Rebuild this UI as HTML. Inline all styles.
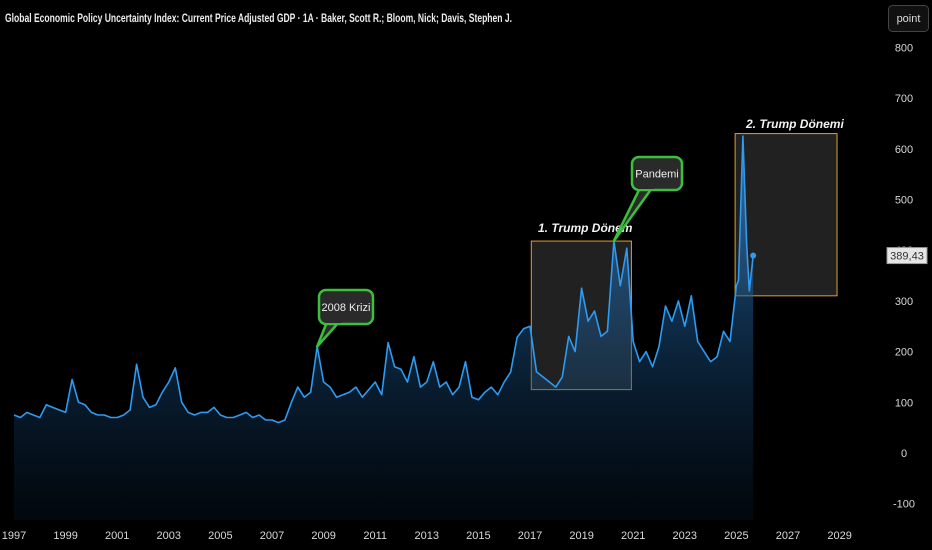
<!DOCTYPE html>
<html><head><meta charset="utf-8"><style>
html,body{margin:0;padding:0;background:#000;width:932px;height:550px;overflow:hidden}
svg{display:block;font-family:"Liberation Sans",sans-serif}
</style></head><body>
<svg id="chart" width="932" height="550" viewBox="0 0 932 550">
<defs>
<linearGradient id="fillg" x1="0" y1="130" x2="0" y2="520" gradientUnits="userSpaceOnUse">
<stop offset="0" stop-color="#2f86d8" stop-opacity="0.8"/>
<stop offset="0.6" stop-color="#164a7a" stop-opacity="0.45"/>
<stop offset="1" stop-color="#06182a" stop-opacity="0.3"/>
</linearGradient>
</defs>
<text x="5" y="22" fill="#ececec" font-size="12" font-weight="bold" textLength="507" lengthAdjust="spacingAndGlyphs">Global Economic Policy Uncertainty Index: Current Price Adjusted GDP · 1A · Baker, Scott R.; Bloom, Nick; Davis, Stephen J.</text>
<g>
<rect x="888.5" y="5.5" width="40" height="26" rx="4" fill="#111" stroke="#444"/>
<text x="908.5" y="22" fill="#ddd" font-size="11" text-anchor="middle">point</text>
</g>
<g id="yaxis"></g>
<g id="xaxis"></g>
<g id="boxes"></g>
<g id="series"></g>
<g id="notes"></g>
</svg>
<script>
const t=[1997,1997.25,1997.5,1997.75,1998,1998.25,1998.5,1998.75,1999,1999.25,1999.5,1999.75,2000,2000.25,2000.5,2000.75,2001,2001.25,2001.5,2001.75,2002,2002.25,2002.5,2002.75,2003,2003.25,2003.5,2003.75,2004,2004.25,2004.5,2004.75,2005,2005.25,2005.5,2005.75,2006,2006.25,2006.5,2006.75,2007,2007.25,2007.5,2007.75,2008,2008.25,2008.5,2008.75,2009,2009.25,2009.5,2009.75,2010,2010.25,2010.5,2010.75,2011,2011.25,2011.5,2011.75,2012,2012.25,2012.5,2012.75,2013,2013.25,2013.5,2013.75,2014,2014.25,2014.5,2014.75,2015,2015.25,2015.5,2015.75,2016,2016.25,2016.5,2016.75,2017,2017.25,2017.5,2017.75,2018,2018.25,2018.5,2018.75,2019,2019.25,2019.5,2019.75,2020,2020.25,2020.5,2020.75,2021,2021.25,2021.5,2021.75,2022,2022.25,2022.5,2022.75,2023,2023.25,2023.5,2023.75,2024,2024.25,2024.5,2024.75,2025,2025.08,2025.25,2025.4,2025.5,2025.65];
const values=[75,70,80,75,70,95,90,85,80,145,100,95,80,75,75,70,70,75,85,175,110,90,95,120,140,168,100,80,75,80,80,90,75,70,70,75,80,70,75,65,65,60,65,100,130,110,120,210,140,130,110,115,120,130,110,125,140,115,218,170,165,140,190,130,140,180,130,140,115,130,180,110,105,120,130,115,140,160,228,245,250,160,150,140,130,150,230,200,325,260,280,230,240,418,330,404,220,180,200,170,210,290,260,300,250,310,220,200,180,190,240,220,330,340,625,410,320,389.43];
const yTicks=[800,700,600,500,400,300,200,100,0,-100];
const xTicks=[1997,1999,2001,2003,2005,2007,2009,2011,2013,2015,2017,2019,2021,2023,2025,2027,2029];
const NS="http://www.w3.org/2000/svg";
const X=v=>14+(v-1997)*25.8;
const Y=v=>453-v*0.507;
const BOTTOM=520;
function mk(tag,attrs,parent){const e=document.createElementNS(NS,tag);for(const k in attrs)e.setAttribute(k,attrs[k]);parent.appendChild(e);return e;}
const ya=document.getElementById('yaxis'),xa=document.getElementById('xaxis');
yTicks.forEach(v=>{const e=mk('text',{x:904,y:Y(v)+4,fill:'#d8d8d8','font-size':11,'text-anchor':'middle'},ya);e.textContent=v;

});
xTicks.forEach(v=>{const e=mk('text',{x:X(v),y:539,fill:'#d8d8d8','font-size':11,'text-anchor':'middle'},xa);e.textContent=v;

});
const bx=document.getElementById('boxes');
function box(x0,x1,v0,v1,name){const r=mk('rect',{x:X(x0),y:Y(v1),width:X(x1)-X(x0),height:Y(v0)-Y(v1),fill:'rgba(60,60,60,0.55)',stroke:'#e0a030','stroke-width':1},bx);

}
box(2017.05,2020.93,125,418,'trump-1-box');
box(2024.95,2028.9,310,630,'trump-2-box');
const sg=document.getElementById('series');
let d='';t.forEach((tt,i)=>{d+=(i?'L':'M')+X(tt).toFixed(1)+','+Y(values[i]).toFixed(1);});
const area=mk('path',{d:d+'L'+X(t[t.length-1])+','+BOTTOM+'L'+X(t[0])+','+BOTTOM+'Z',fill:'url(#fillg)'},sg);


const line=mk('path',{d:d,fill:'none',stroke:'#2e9af0','stroke-width':1.6,'stroke-linejoin':'round'},sg);


const lt=t[t.length-1],lv=values[values.length-1];
const dot=mk('circle',{cx:X(lt),cy:Y(lv),r:3,fill:'#2e9af0'},sg);


const ng=document.getElementById('notes');
function label(txt,x,y,name){const e=mk('text',{x:x,y:y,fill:'#f2f2f2','font-size':12,'font-weight':'bold','font-style':'italic'},ng);e.textContent=txt;

}
label('1. Trump Dönem',538,232,'trump-1-title');
label('2. Trump Dönemi',746,128,'trump-2-title');
function callout(txt,bx0,by0,w,h,pt,pv,name){const g=mk('g',{},ng);


const px=X(pt),py=Y(pv);
mk('path',{d:`M${bx0+8},${by0+h-2} L${px},${py} L${bx0+20},${by0+h-2}`,fill:'#2a2a2a',stroke:'#3cc03c','stroke-width':2.5,'stroke-linejoin':'round'},g);
mk('rect',{x:bx0,y:by0,width:w,height:h,rx:7,fill:'#2a2a2a',stroke:'#3cc03c','stroke-width':2.5},g);
mk('rect',{x:bx0+6,y:by0+h-4,width:16,height:3,fill:'#2a2a2a'},g);
const tx=mk('text',{x:bx0+w/2,y:by0+h/2+4,fill:'#eee','font-size':11,'text-anchor':'middle'},g);tx.textContent=txt;}
callout('2008 Krizi',319,290,54,34,2008.75,210,'crisis-2008-callout');
callout('Pandemi',632,157,50,33,2020.25,418,'pandemic-callout');
const pl=mk('g',{},ng);


mk('rect',{x:887,y:Y(lv)-8,width:40,height:16,fill:'#e6e6e6',stroke:'#999'},pl);
const pt=mk('text',{x:907,y:Y(lv)+4,fill:'#333','font-size':11,'text-anchor':'middle'},pl);pt.textContent='389,43';
</script>
</body></html>
